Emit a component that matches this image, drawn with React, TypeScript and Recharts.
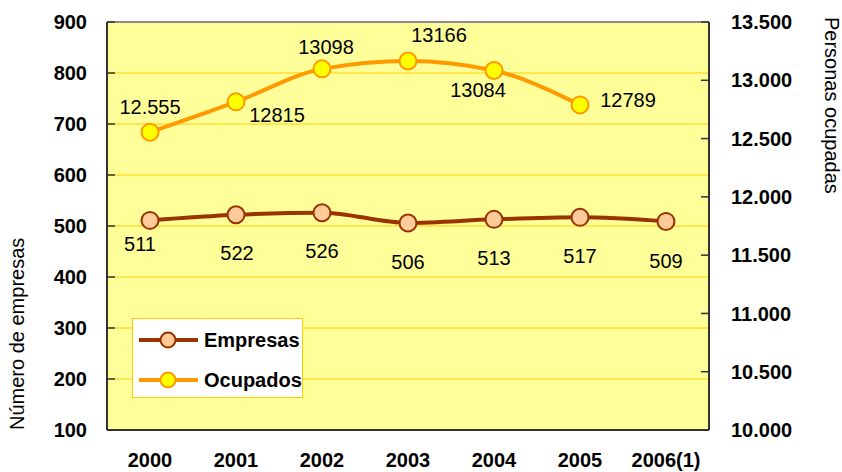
import React from 'react';
import {
  LineChart,
  Line,
  XAxis,
  YAxis,
  CartesianGrid,
  Legend,
  LabelList,
  ReferenceLine,
} from 'recharts';

// ---- data ----
const years = ['2000', '2001', '2002', '2003', '2004', '2005', '2006(1)'];
const empresas = [511, 522, 526, 506, 513, 517, 509];
const ocupados: (number | null)[] = [12555, 12815, 13098, 13166, 13084, 12789, null];
const empresasLabels = ['511', '522', '526', '506', '513', '517', '509'];
const ocupadosLabels = ['12.555', '12815', '13098', '13166', '13084', '12789', ''];
const empresasTicks = [100, 200, 300, 400, 500, 600, 700, 800, 900];
const ocupadosTicks = [10000, 10500, 11000, 11500, 12000, 12500, 13000, 13500];

const data = years.map((year, i) => ({
  pos: i + 0.5,
  year,
  empresas: empresas[i],
  ocupados: ocupados[i],
}));
const boundaryTicks = years.map((_, i) => i).concat([years.length]);
const centerTicks = years.map((_, i) => i + 0.5);

// ---- styles ----
const FONT = '"Liberation Sans", Arial, Helvetica, sans-serif';
const EMP_LINE = '#993300';
const EMP_FILL = '#FFCC99';
const OCU_LINE = '#FF9900';
const OCU_FILL = '#FFFF00';
const AXIS = '#333333';

// label offsets (dx, dy) relative to each point
const empresasLabelOffsets = [[-10, 24], [1, 38], [0, 38], [0, 39], [0, 39], [0, 39], [0, 40]];
const ocupadosLabelOffsets = [[0, -25], [41, 13], [4, -22], [31, -26], [-16, 20], [48, -5], [0, 0]];

const tickStyle = { fontSize: 20, fontWeight: 'bold', fill: '#000', fontFamily: FONT };

const formatThousands = (v: number) => {
  const th = Math.floor(v / 1000);
  const rest = String(v % 1000).padStart(3, '0');
  return `${th}.${rest}`;
};

const makeLabel = (texts: string[], offsets: number[][]) => (props: any) => {
  const { x, y, index, value } = props;
  if (value === null || value === undefined || x == null || y == null) return null;
  const [dx, dy] = offsets[index] || [0, 0];
  return (
    <text
      x={Number(x) + dx}
      y={Number(y) + dy}
      textAnchor="middle"
      dominantBaseline="central"
      fontSize={20}
      fontFamily={FONT}
      fill="#000"
    >
      {texts[index]}
    </text>
  );
};

const LeftTitle = (props: any) => {
  const vb = props.viewBox || { x: 27, y: 22, width: 80, height: 408 };
  const cx = vb.x - 10;
  const cy = vb.y + vb.height;
  return (
    <text
      x={cx}
      y={cy}
      transform={`rotate(-90, ${cx}, ${cy})`}
      textAnchor="start"
      dominantBaseline="central"
      fontSize={20}
      fontFamily={FONT}
      fill="#000"
    >
      Número de empresas
    </text>
  );
};

const RightTitle = (props: any) => {
  const vb = props.viewBox || { x: 709, y: 22, width: 100, height: 408 };
  const cx = vb.x + 123;
  const cy = vb.y - 5;
  return (
    <text
      x={cx}
      y={cy}
      transform={`rotate(90, ${cx}, ${cy})`}
      textAnchor="start"
      dominantBaseline="central"
      fontSize={20}
      fontFamily={FONT}
      fill="#000"
    >
      Personas ocupadas
    </text>
  );
};

const legendItems = [
  { name: 'Empresas', line: EMP_LINE, fill: EMP_FILL },
  { name: 'Ocupados', line: OCU_LINE, fill: OCU_FILL },
];

const LegendBox = () => (
  <svg width={171} height={80} style={{ display: 'block' }}>
    <rect x={0.5} y={0.5} width={170} height={79} fill="#FFFFFF" stroke="#FFCC00" strokeWidth={1} />
    {legendItems.map((it, i) => {
      const cy = 22 + i * 40;
      return (
        <g key={it.name}>
          <line x1={7} x2={66} y1={cy} y2={cy} stroke={it.line} strokeWidth={4} />
          <circle cx={36} cy={cy} r={7.5} fill={it.fill} stroke={it.line} strokeWidth={2} />
          <text
            x={72}
            y={cy}
            dominantBaseline="central"
            fontSize={20}
            fontWeight="bold"
            fontFamily={FONT}
            fill="#000"
          >
            {it.name}
          </text>
        </g>
      );
    })}
  </svg>
);

export default function App() {
  return (
    <div style={{ position: 'absolute', left: 0, top: 0, width: 842, height: 472, background: '#fff' }}>
      <LineChart
        width={842}
        height={472}
        data={data}
        margin={{ top: 22, right: 33, bottom: 0, left: 27 }}
        style={{ fontFamily: FONT }}
      >
        <CartesianGrid
          xAxisId="grid"
          yAxisId="left"
          stroke="#FFCC00"
          strokeWidth={1}
          fill="#FFFF99"
          fillOpacity={1}
        />
        <XAxis
          xAxisId="grid"
          type="number"
          dataKey="pos"
          domain={[0, years.length]}
          ticks={boundaryTicks}
          interval={0}
          tick={false}
          tickSize={-7}
          height={1}
          axisLine={{ stroke: AXIS, strokeWidth: 2 }}
          tickLine={{ stroke: AXIS, strokeWidth: 1.5 }}
        />
        <XAxis
          xAxisId="labels"
          type="number"
          dataKey="pos"
          domain={[0, years.length]}
          ticks={centerTicks}
          interval={0}
          allowDecimals
          tickFormatter={(v: number) => years[Math.round(v - 0.5)] ?? ''}
          axisLine={false}
          tickLine={false}
          tickSize={0}
          tickMargin={22}
          height={41}
          tick={tickStyle}
        />
        <YAxis
          yAxisId="left"
          orientation="left"
          domain={[100, 900]}
          ticks={empresasTicks}
          interval={0}
          width={80}
          tickSize={-8}
          tickMargin={28}
          axisLine={{ stroke: AXIS, strokeWidth: 2 }}
          tickLine={{ stroke: AXIS, strokeWidth: 1.5 }}
          tick={tickStyle}
          label={(p: any) => <LeftTitle {...p} />}
        />
        <YAxis
          yAxisId="right"
          orientation="right"
          domain={[10000, 13500]}
          ticks={ocupadosTicks}
          interval={0}
          width={100}
          tickSize={-8}
          tickMargin={30}
          tickFormatter={formatThousands}
          axisLine={{ stroke: AXIS, strokeWidth: 2 }}
          tickLine={{ stroke: AXIS, strokeWidth: 1.5 }}
          tick={tickStyle}
          label={(p: any) => <RightTitle {...p} />}
        />
        <ReferenceLine yAxisId="left" xAxisId="grid" y={900} stroke="#8C8C8C" strokeWidth={2} />
        <Legend
          layout="vertical"
          align="center"
          verticalAlign="middle"
          wrapperStyle={{ left: 132, top: 318, width: 171, height: 80 }}
          content={() => <LegendBox />}
        />
        <Line
          xAxisId="grid"
          yAxisId="left"
          type="monotone"
          dataKey="empresas"
          name="Empresas"
          stroke={EMP_LINE}
          strokeWidth={4}
          dot={{ r: 8.5, fill: EMP_FILL, stroke: EMP_LINE, strokeWidth: 2 }}
          activeDot={false}
          isAnimationActive={false}
        >
          <LabelList dataKey="empresas" content={makeLabel(empresasLabels, empresasLabelOffsets)} />
        </Line>
        <Line
          xAxisId="grid"
          yAxisId="right"
          type="monotone"
          dataKey="ocupados"
          name="Ocupados"
          stroke={OCU_LINE}
          strokeWidth={4}
          dot={{ r: 8.5, fill: OCU_FILL, stroke: OCU_LINE, strokeWidth: 2 }}
          activeDot={false}
          isAnimationActive={false}
        >
          <LabelList dataKey="ocupados" content={makeLabel(ocupadosLabels, ocupadosLabelOffsets)} />
        </Line>
      </LineChart>
    </div>
  );
}
